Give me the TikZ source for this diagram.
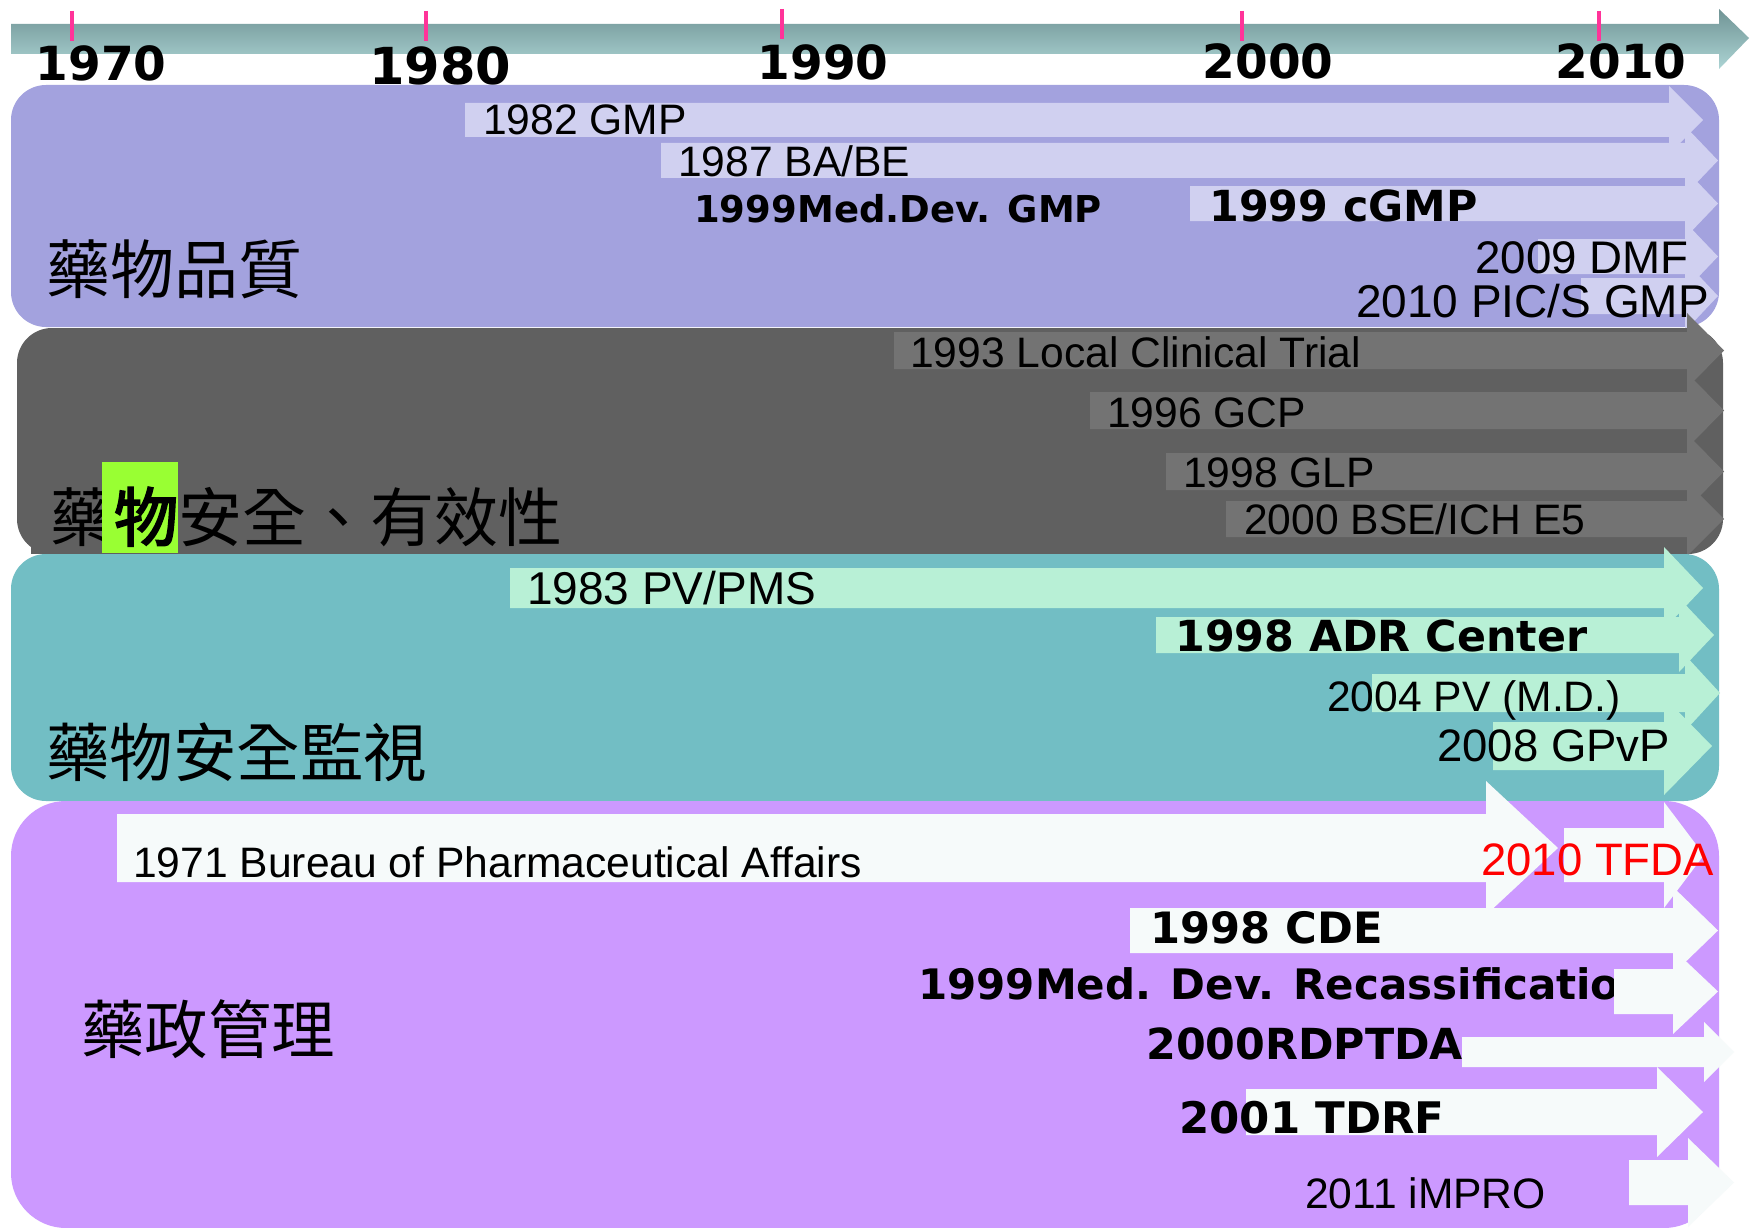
\documentclass[tikz,border=0pt]{standalone}
\usepackage{fontspec}
\setmainfont{Liberation Sans}
\newfontfamily\dv{DejaVu Sans}
\newfontfamily\cjk{Noto Sans CJK TC}
\newfontfamily\cjkb[FakeBold=3]{Noto Sans CJK TC}
\newcommand\fsz[1]{\fontsize{#1}{#1}\selectfont}
\definecolor{tlTop}{RGB}{112,148,149}
\definecolor{tlBot}{RGB}{172,212,212}
\definecolor{tickpink}{RGB}{255,51,153}
\definecolor{boxPurple}{RGB}{163,162,222}
\definecolor{arrLav}{RGB}{208,208,240}
\definecolor{boxGray}{RGB}{96,96,96}
\definecolor{arrGray}{RGB}{115,115,115}
\definecolor{boxTeal}{RGB}{114,190,196}
\definecolor{arrMint}{RGB}{184,240,214}
\definecolor{boxViolet}{RGB}{204,153,255}
\definecolor{arrWhite}{RGB}{246,250,250}
\definecolor{hiGreen}{RGB}{153,255,51}
\definecolor{tfdaRed}{RGB}{255,0,0}
% block arrow: color, x start, shaft end x, tip x, shaft top y, shaft bottom y, head extension
\newcommand{\blkarrow}[7]{\fill[#1] (#2,#5) -- (#3,#5) -- (#3,{#5-#7}) -- (#4,{(#5+#6)/2}) -- (#3,{#6+#7}) -- (#3,#6) -- (#2,#6) -- cycle;}
\tikzset{
  lab/.style={anchor=base west, inner sep=0pt, font=\fsz{42.6}},
  blab/.style={anchor=base west, inner sep=0pt, font=\dv\bfseries\fsz{42.8}},
  year/.style={anchor=base, inner sep=0pt, font=\dv\bfseries\fsz{47}},
  cjklab/.style={anchor=base west, inner sep=0pt, font=\cjk\fsz{63.5}},
  yeartick/.style={draw=tickpink, line width=4pt},
}
\begin{document}
\begin{tikzpicture}[x=1pt,y=-1pt]
\useasboundingbox (0,0) rectangle (1754,1228);
\fill[white] (0,0) rectangle (1754,1228);

% ---- timeline ----
\shade[top color=tlTop, bottom color=tlBot] (11,24) -- (1719,24) -- (1719,9) -- (1749,38) -- (1719,69) -- (1719,54) -- (11,54) -- cycle;
\draw[yeartick] (72,11) -- (72,41);
\draw[yeartick] (426,11) -- (426,41);
\draw[yeartick] (782,9) -- (782,39);
\draw[yeartick] (1242,11) -- (1242,41);
\draw[yeartick] (1599,11) -- (1599,41);
\node[year] (y1970) at (101,81) {1970};
\node[year, font=\dv\bfseries\fsz{51}] (y1980) at (440,85) {1980};
\node[year] (y1990) at (823,80) {1990};
\node[year] (y2000) at (1268,79) {2000};
\node[year] (y2010) at (1621,79) {2010};

% ---- quality band ----
\fill[boxPurple, rounded corners=35] (11,85) rectangle (1719,327);
\blkarrow{arrLav}{465}{1669}{1703}{103}{137}{17}
\blkarrow{arrLav}{661}{1685}{1718}{143}{178}{17}
\blkarrow{arrLav}{1190}{1685}{1718}{186}{221}{17}
\blkarrow{arrLav}{1538}{1685}{1718}{239}{274}{17}
\blkarrow{arrLav}{1581}{1685}{1718}{278}{314}{17}
\node[lab] (gmp82) at (483,135) {1982 GMP};
\node[lab] (babe87) at (678,176) {1987 BA/BE};
\node[blab, font=\dv\bfseries\fsz{37}] (mdgmp99) at (694,222) {1999Med.Dev. GMP};
\node[blab] (cgmp99) at (1209,221) {1999 cGMP};
\node[lab, font=\fsz{45.7}] (dmf09) at (1475,273) {2009 DMF};
\node[lab, font=\fsz{46}] (pics10) at (1356,317) {2010 PIC/S GMP};
\node[cjklab, font=\cjk\fsz{64}] (quality) at (46,293) {藥物品質};

% ---- safety / efficacy band ----
\fill[boxGray, rounded corners=35] (17,328) rectangle (1723,554);
\fill[boxGray] (31,520) rectangle (90,554);
\blkarrow{arrGray}{894}{1687}{1724}{332}{369}{19}
\blkarrow{arrGray}{1090}{1687}{1724}{392}{429}{19}
\blkarrow{arrGray}{1166}{1687}{1724}{453}{490}{19}
\blkarrow{arrGray}{1226}{1687}{1724}{501}{537}{19}
\node[lab] (lct93) at (910,367) {1993 Local Clinical Trial};
\node[lab] (gcp96) at (1107,427) {1996 GCP};
\node[lab] (glp98) at (1183,487) {1998 GLP};
\node[lab] (bse00) at (1244,534) {2000 BSE/ICH E5};
\node[cjklab, font=\cjk\fsz{64}] (efficacyA) at (50,541) {藥};
\fill[hiGreen] (102,462) rectangle (178,553);
\node[cjklab, font=\cjkb\fsz{64}] (wu) at (114,541) {物};
\node[cjklab, font=\cjk\fsz{64}] (efficacyB) at (178,541) {安全、有效性};

% ---- safety monitoring band ----
\fill[boxTeal, rounded corners=35] (11,554) rectangle (1719,801);
\blkarrow{arrMint}{510}{1664}{1703}{568}{608}{21}
\blkarrow{arrMint}{1156}{1679}{1714}{617}{653}{19}
\blkarrow{arrMint}{1372}{1685}{1720}{674}{712}{19}
\blkarrow{arrMint}{1493}{1664}{1712}{722}{770}{25}
\node[lab, font=\fsz{46}] (pms83) at (527,604) {1983 PV/PMS};
\node[blab] (adr98) at (1175,651) {1998 ADR Center};
\node[lab] (pvmd04) at (1327,711) {2004 PV (M.D.)};
\node[lab, font=\fsz{45.5}] (gpvp08) at (1437,761) {2008 GPvP};
\node[cjklab] (monitor) at (46,776) {藥物安全監視};

% ---- administration band ----
\fill[boxViolet, rounded corners=55] (11,801) rectangle (1719,1228);
\blkarrow{arrWhite}{117}{1486}{1558}{814}{882}{33}
\blkarrow{arrWhite}{1564}{1664}{1704}{828}{882}{26}
\blkarrow{arrWhite}{1130}{1673}{1718}{908}{953}{21}
\node[lab] (bpa71) at (133,877) {1971 Bureau of Pharmaceutical Affairs};
\node[lab, font=\fsz{45.5}, text=tfdaRed] (tfda10) at (1481,875) {2010 TFDA};
\node[blab, font=\dv\bfseries\fsz{43.2}] (cde98) at (1150,943) {1998 CDE};
\node[blab, font=\dv\bfseries\fsz{42}] (recl99) at (918,999) {1999Med. Dev. Recassificatio};
\node[blab] (rdptda00) at (1146,1059) {2000RDPTDA};
\blkarrow{arrWhite}{1614}{1673}{1718}{969}{1014}{20}
\blkarrow{arrWhite}{1462}{1704}{1734}{1037}{1067}{15}
\blkarrow{arrWhite}{1246}{1657}{1703}{1089}{1135}{22}
\blkarrow{arrWhite}{1629}{1688}{1734}{1160}{1205}{22}
\node[blab, font=\dv\bfseries\fsz{43.5}] (tdrf01) at (1179,1133) {2001 TDRF};
\node[lab] (impro11) at (1305,1208) {2011 iMPRO};
\node[cjklab] (admin) at (81,1053) {藥政管理};
\end{tikzpicture}
\end{document}
